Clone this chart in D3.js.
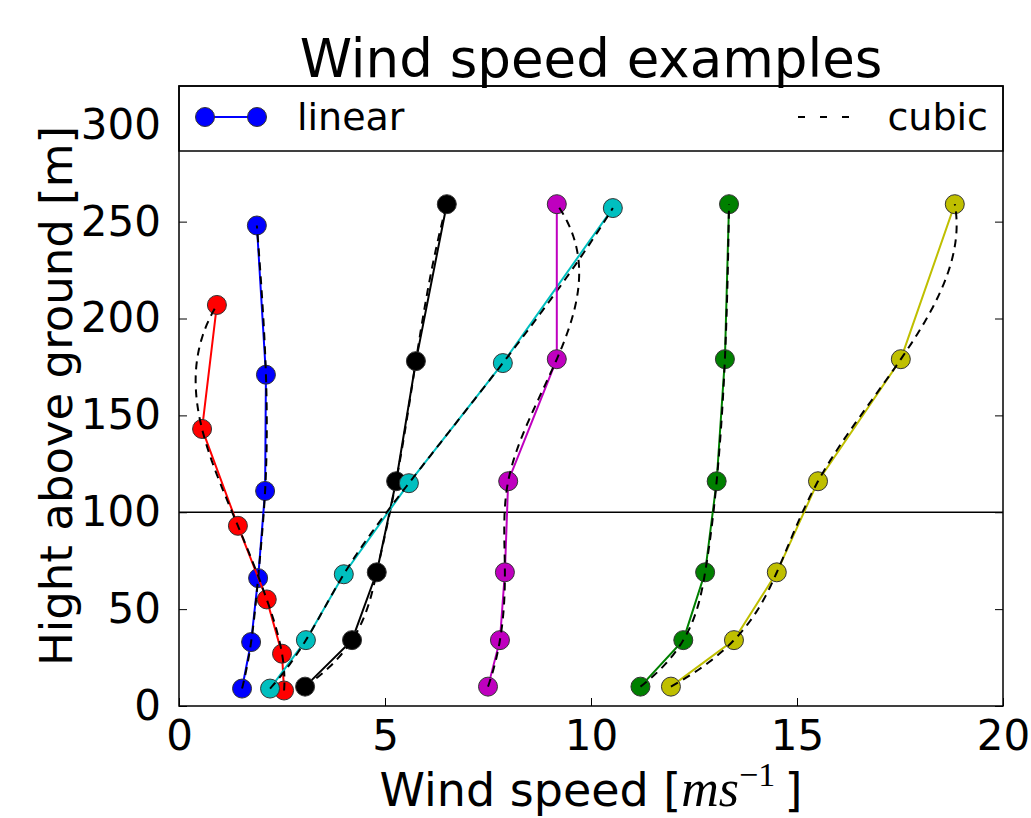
<!DOCTYPE html>
<html>
<head>
<meta charset="utf-8">
<style>
  body { margin: 0; background: #fff; }
  text { font-family: "DejaVu Sans", sans-serif; fill: #000; }
  .domain { display: none; }
</style>
</head>
<body>
<svg width="1031" height="818"></svg>
<script src="https://d3js.org/d3.v7.min.js"></script>
<script>
// profiles, drawn in this order
var colors = ["#0000ff", "#ff0000", "#000000", "#00bfbf", "#bf00bf", "#008000", "#bfbf00"];

var heights = [
  [9, 33, 66, 111, 171, 248],
  [8, 27, 55, 93, 143, 207],
  [10, 34, 69, 116, 178, 259],
  [9, 34, 68, 115, 177, 257],
  [10, 34, 69, 116, 179, 259],
  [10, 34, 69, 116, 179, 259],
  [10, 34, 69, 116, 179, 259]
];

var speeds = [
  [1.53, 1.75, 1.92, 2.09, 2.11, 1.89],
  [2.55, 2.50, 2.13, 1.43, 0.56, 0.92],
  [3.06, 4.20, 4.80, 5.27, 5.75, 6.50],
  [2.21, 3.08, 4.00, 5.58, 7.86, 10.53],
  [7.50, 7.79, 7.91, 7.99, 9.17, 9.17],
  [11.20, 12.24, 12.77, 13.05, 13.25, 13.35],
  [11.94, 13.47, 14.51, 15.51, 17.52, 18.83]
];

var xTicks = [0, 5, 10, 15, 20];
var yTicks = [0, 50, 100, 150, 200, 250, 300];
var refHeight = 100;

var svg = d3.select("svg");
var plotL = 179, plotR = 1003, plotT = 86, plotB = 706;

var x = d3.scaleLinear().domain([0, 20]).range([plotL, plotR]);
var y = d3.scaleLinear().domain([0, 320]).range([plotB, plotT]);

// not-a-knot cubic spline of speed as a function of height
function spline(xs, ys) {
  var n = xs.length, h = [], A = [], b = [];
  for (var i = 0; i < n - 1; i++) h.push(xs[i + 1] - xs[i]);
  for (var i = 0; i < n; i++) { A.push(new Array(n).fill(0)); b.push(0); }
  A[0][0] = h[1]; A[0][1] = -(h[0] + h[1]); A[0][2] = h[0];
  for (var i = 1; i < n - 1; i++) {
    A[i][i - 1] = h[i - 1];
    A[i][i] = 2 * (h[i - 1] + h[i]);
    A[i][i + 1] = h[i];
    b[i] = 6 * ((ys[i + 1] - ys[i]) / h[i] - (ys[i] - ys[i - 1]) / h[i - 1]);
  }
  A[n - 1][n - 3] = h[n - 2]; A[n - 1][n - 2] = -(h[n - 3] + h[n - 2]); A[n - 1][n - 1] = h[n - 3];
  // gaussian elimination
  for (var c = 0; c < n; c++) {
    var p = c;
    for (var r = c + 1; r < n; r++) if (Math.abs(A[r][c]) > Math.abs(A[p][c])) p = r;
    var t = A[c]; A[c] = A[p]; A[p] = t; t = b[c]; b[c] = b[p]; b[p] = t;
    for (var r = c + 1; r < n; r++) {
      var f = A[r][c] / A[c][c];
      for (var k = c; k < n; k++) A[r][k] -= f * A[c][k];
      b[r] -= f * b[c];
    }
  }
  var M = new Array(n).fill(0);
  for (var r = n - 1; r >= 0; r--) {
    var s = b[r];
    for (var k = r + 1; k < n; k++) s -= A[r][k] * M[k];
    M[r] = s / A[r][r];
  }
  return function(v) {
    var i = 0;
    while (i < n - 2 && v > xs[i + 1]) i++;
    var hi = h[i], a = xs[i + 1] - v, bb = v - xs[i];
    return M[i] * a * a * a / (6 * hi) + M[i + 1] * bb * bb * bb / (6 * hi)
      + (ys[i] / hi - M[i] * hi / 6) * a + (ys[i + 1] / hi - M[i + 1] * hi / 6) * bb;
  };
}

var line = d3.line().x(function(d) { return x(d[0]); }).y(function(d) { return y(d[1]); });

var plot = svg.append("g");

// reference height line
plot.append("line")
    .attr("x1", plotL).attr("x2", plotR)
    .attr("y1", y(refHeight)).attr("y2", y(refHeight))
    .attr("stroke", "#000").attr("stroke-width", 1.5);

colors.forEach(function(col, s) {
  var pts = heights[s].map(function(hgt, i) { return [speeds[s][i], hgt]; });
  var g = plot.append("g");
  g.append("path").attr("d", line(pts))
      .attr("fill", "none").attr("stroke", col).attr("stroke-width", 2);
  g.selectAll("circle").data(pts).enter().append("circle")
      .attr("cx", function(d) { return x(d[0]); })
      .attr("cy", function(d) { return y(d[1]); })
      .attr("r", 9.5)
      .attr("fill", col).attr("stroke", "#333").attr("stroke-width", 1);
  var f = spline(heights[s], speeds[s]);
  var h0 = heights[s][0], h1 = heights[s][heights[s].length - 1];
  var cub = d3.range(0, 201).map(function(k) { var v = h0 + (h1 - h0) * k / 200; return [f(v), v]; });
  g.append("path").attr("d", line(cub))
      .attr("fill", "none").attr("stroke", "#000").attr("stroke-width", 2)
      .attr("stroke-dasharray", "8,6");
});

// axes with inward ticks
var ax = svg.append("g");
ax.append("g").attr("transform", "translate(0," + plotB + ")")
    .call(d3.axisBottom(x).tickValues(xTicks).tickSize(-8).tickPadding(14).tickFormat(d3.format("d")))
    .call(function(g) { g.selectAll("text").attr("font-size", 42).attr("font-family", "DejaVu Sans"); });
ax.append("g").attr("transform", "translate(" + plotL + ",0)")
    .call(d3.axisLeft(y).tickValues(yTicks).tickSize(-8).tickPadding(18).tickFormat(d3.format("d")))
    .call(function(g) { g.selectAll("text").attr("font-size", 42).attr("font-family", "DejaVu Sans"); });
ax.append("g").attr("transform", "translate(" + plotR + ",0)")
    .call(d3.axisRight(y).tickValues(yTicks).tickSize(-8).tickFormat(""));
ax.selectAll(".tick line").attr("stroke", "#000").attr("stroke-width", 1);

// legend box across the top of the axes
var legBottom = 151;
svg.append("rect").attr("x", plotL).attr("y", plotT)
    .attr("width", plotR - plotL).attr("height", legBottom - plotT)
    .attr("fill", "#fff").attr("stroke", "#000").attr("stroke-width", 1.5);
var ly = 117;
svg.append("line").attr("x1", 205).attr("x2", 257).attr("y1", ly).attr("y2", ly)
    .attr("stroke", colors[0]).attr("stroke-width", 2);
svg.selectAll(".legdot").data([205, 257]).enter().append("circle")
    .attr("cx", function(d) { return d; }).attr("cy", ly).attr("r", 9.5)
    .attr("fill", colors[0]).attr("stroke", "#333").attr("stroke-width", 1);
svg.append("text").attr("x", 297).attr("y", ly).attr("dy", "0.35em")
    .attr("font-size", 38).text("linear");
svg.append("line").attr("x1", 798).attr("x2", 850).attr("y1", ly).attr("y2", ly)
    .attr("stroke", "#000").attr("stroke-width", 2).attr("stroke-dasharray", "7,15");
svg.append("text").attr("x", 988).attr("y", ly).attr("dy", "0.35em")
    .attr("text-anchor", "end").attr("font-size", 38).text("cubic");

// frame
svg.append("rect").attr("x", plotL).attr("y", plotT)
    .attr("width", plotR - plotL).attr("height", plotB - plotT)
    .attr("fill", "none").attr("stroke", "#000").attr("stroke-width", 1.5);

// titles
svg.append("text").attr("x", (plotL + plotR) / 2).attr("y", 77)
    .attr("text-anchor", "middle").attr("font-size", 53).text("Wind speed examples");

var xl = svg.append("text").attr("x", (plotL + plotR) / 2).attr("y", 806)
    .attr("text-anchor", "middle").attr("font-size", 46);
xl.append("tspan").text("Wind speed [");
xl.append("tspan").attr("font-family", "Liberation Serif").attr("font-style", "italic").attr("font-size", 52).text("ms");
xl.append("tspan").attr("font-family", "Liberation Serif").attr("font-size", 34).attr("dy", -20).text("\u22121");
xl.append("tspan").attr("dy", 20).text("\u2009]");

svg.append("text").attr("transform", "translate(72," + (plotB + plotT) / 2 + ") rotate(-90)")
    .attr("text-anchor", "middle").attr("font-size", 45).text("Hight above ground [m]");
</script>
</body>
</html>
